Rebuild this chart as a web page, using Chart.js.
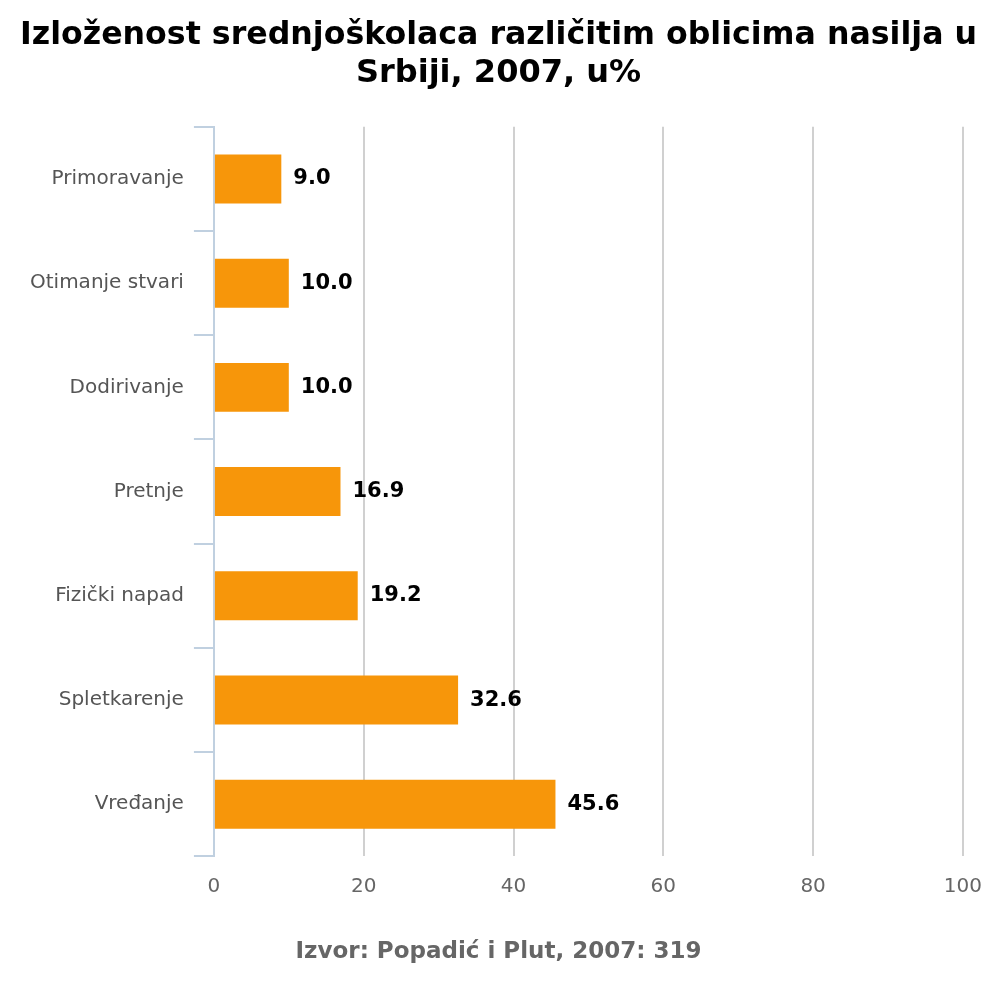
<!DOCTYPE html>
<html>
<head>
<meta charset="utf-8">
<script src="https://cdn.jsdelivr.net/npm/chart.js@4"></script>
<style>
  body { margin: 0; background: #fff; }
  #wrap { width: 1000px; height: 1000px; }
</style>
</head>
<body>
<div id="wrap"><canvas id="chart" width="1000" height="1000"></canvas></div>
<script>
const labels = ["Primoravanje", "Otimanje stvari", "Dodirivanje", "Pretnje", "Fizički napad", "Spletkarenje", "Vređanje"];
const values = [9.0, 10.0, 10.0, 16.9, 19.2, 32.6, 45.6];

// draw the value next to each bar
const valueLabels = {
  id: "valueLabels",
  afterDatasetsDraw(chart) {
    const ctx = chart.ctx;
    ctx.save();
    ctx.font = "bold 21px 'DejaVu Sans'";
    ctx.fillStyle = "#000";
    ctx.textBaseline = "middle";
    chart.getDatasetMeta(0).data.forEach((bar, i) => {
      ctx.fillText(values[i].toFixed(1), bar.x + 12, bar.y);
    });
    ctx.restore();
  }
};

new Chart(document.getElementById("chart"), {
  type: "bar",
  plugins: [valueLabels],
  data: {
    labels: labels,
    datasets: [{
      data: values,
      backgroundColor: "#f7960a",
      barPercentage: 0.47,
      categoryPercentage: 1
    }]
  },
  options: {
    indexAxis: "y",
    responsive: false,
    animation: false,
    layout: { padding: { left: 20, right: 23, top: 0, bottom: 0 } },
    plugins: {
      legend: { display: false },
      tooltip: { enabled: false },
      title: {
        display: true,
        text: ["Izloženost srednjoškolaca različitim oblicima nasilja u", "Srbiji, 2007, u%"],
        color: "#000",
        font: { family: "DejaVu Sans", size: 32, weight: "bold" },
        padding: { top: 16, bottom: 34 },
        lineHeight: 1.25
      },
      subtitle: {
        display: true,
        position: "bottom",
        text: "Izvor: Popadić i Plut, 2007: 319",
        color: "#666",
        font: { family: "DejaVu Sans", size: 23, weight: "bold" },
        padding: { top: 22, bottom: 34 }
      }
    },
    scales: {
      x: {
        min: 0, max: 100,
        ticks: { stepSize: 20, color: "#666", font: { family: "DejaVu Sans", size: 20 }, padding: 18 },
        grid: { color: "#d0d0d0", lineWidth: 2, drawTicks: false },
        border: { display: false }
      },
      y: {
        ticks: { color: "#555", font: { family: "DejaVu Sans", size: 20 }, padding: 10 },
        grid: { offset: true, drawOnChartArea: false, tickLength: 20, color: "#c0d0e0", lineWidth: 2 },
        border: { color: "#c0d0e0", width: 2 }
      }
    }
  }
});
</script>
</body>
</html>
